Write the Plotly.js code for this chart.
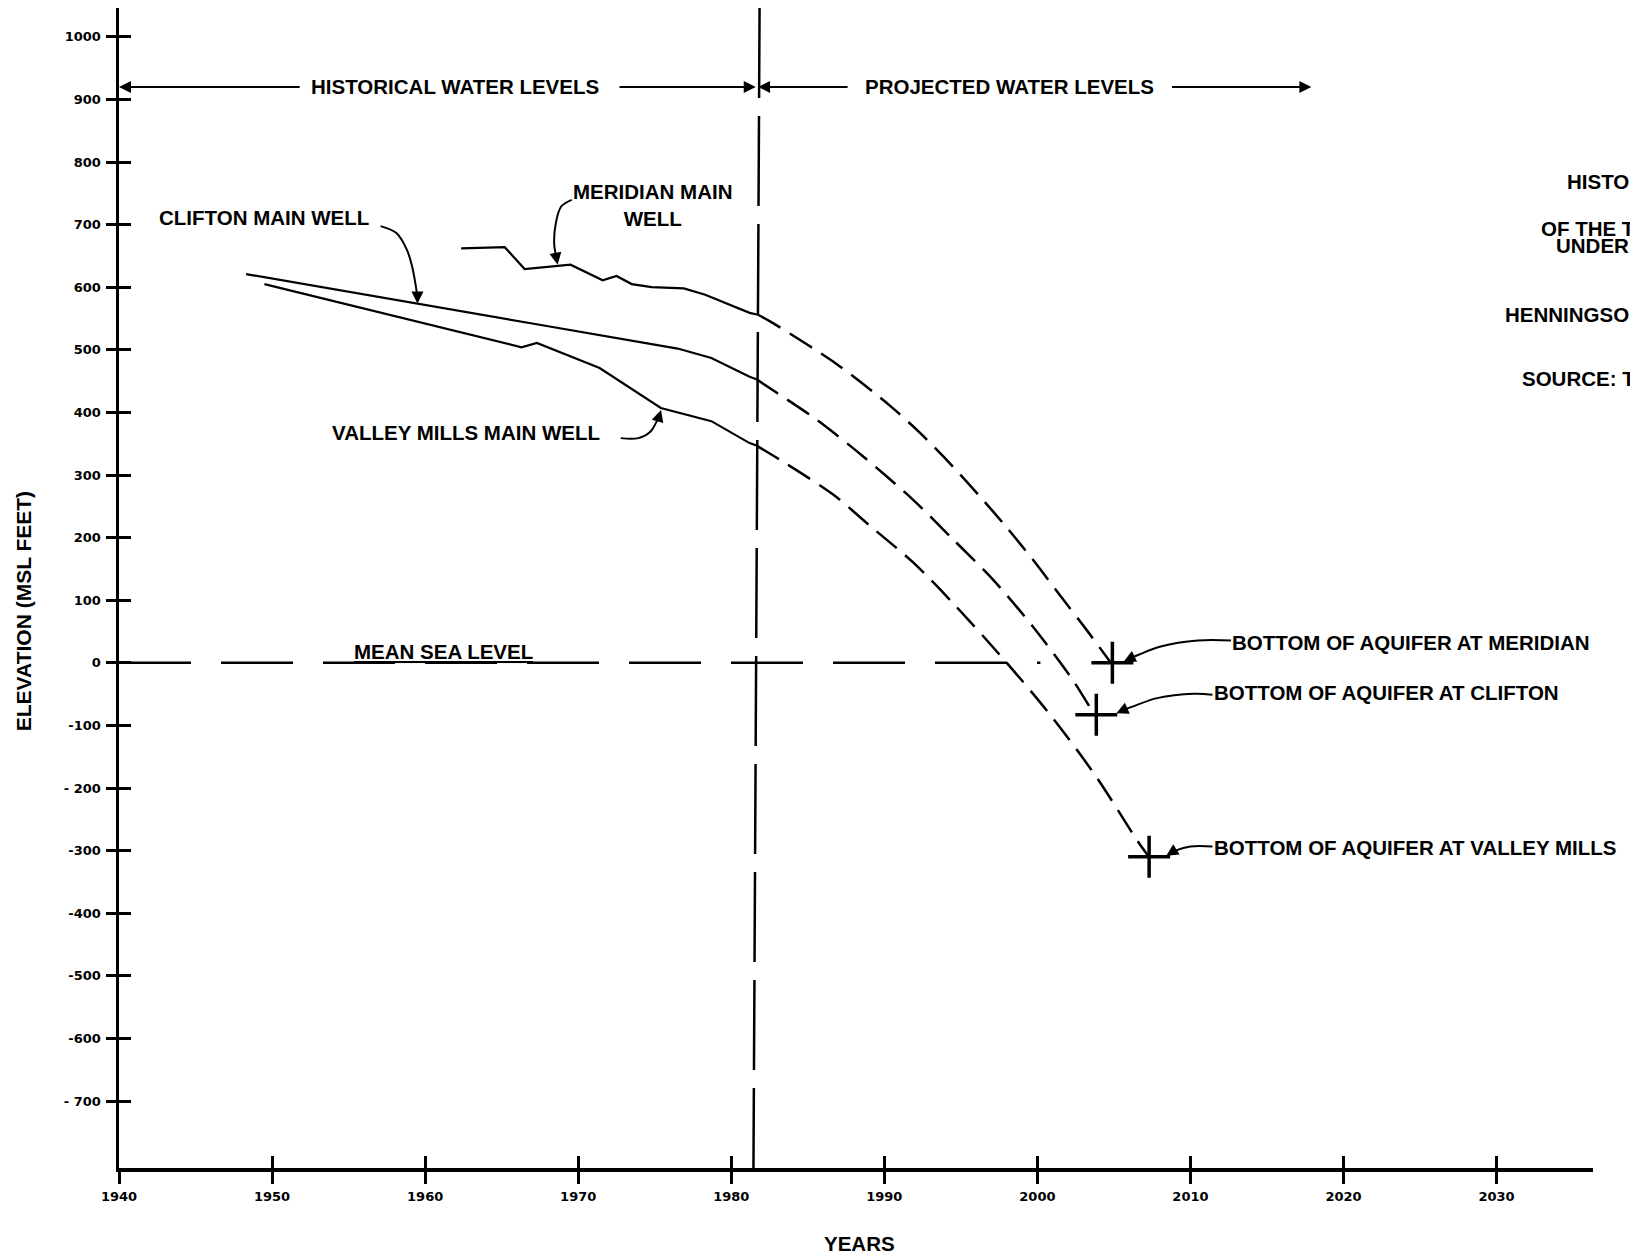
<!DOCTYPE html>
<html><head><meta charset="utf-8">
<script src="https://cdn.plot.ly/plotly-3.0.1.min.js"></script>
<style>html,body{margin:0;padding:0;background:#fff}</style>
</head><body><div id="chart" style="width:1630px;height:1258px"></div>
<script>
// ---------- DATA ----------
const xTickVals = [1940, 1950, 1960, 1970, 1980, 1990, 2000, 2010, 2020, 2030];
const xTickText = ['1940', '1950', '1960', '1970', '1980', '1990', '2000', '2010', '2020', '2030'];
const yTickVals = [1000, 900, 800, 700, 600, 500, 400, 300, 200, 100, 0, -100, -200, -300, -400, -500, -600, -700];
const yTickText = ['1000', '900', '800', '700', '600', '500', '400', '300', '200', '100', '0', '-100', '- 200', '-300', '-400', '-500', '-600', '- 700'];

// historical (solid) water levels
const cliftonYears = [1948.3, 1959.5, 1967.0, 1976.5, 1978.7, 1981.2, 1981.65];
const cliftonElev  = [621, 573, 542, 502, 487, 457, 453];
const meridianYears = [1962.35, 1965.2, 1966.5, 1968.6, 1969.5, 1971.6, 1972.5, 1973.5, 1974.8, 1976.9, 1978.3, 1981.2, 1981.75];
const meridianElev  = [662, 664, 629, 634, 636, 611, 618, 605, 600, 598, 588, 559, 556];
const valleyYears = [1949.5, 1959.5, 1966.3, 1967.3, 1971.4, 1975.4, 1978.7, 1981.2, 1981.65];
const valleyElev  = [605, 545, 504, 511, 471, 407, 386, 351, 347];

// projected (dashed) water levels
const meridianProjYears = [1981.75, 1982.7, 1986.9, 1990.4, 1992.3, 1994.5, 1996.2, 1998.0, 1999.7, 2001.5, 2003.2, 2004.8];
const meridianProjElev  = [556, 543, 477, 410, 368, 313, 267, 216, 165, 107, 53, 0];
const cliftonProjYears = [1981.65, 1983.0, 1985.6, 1988.6, 1991.9, 1994.5, 1997.1, 1999.7, 2002.3, 2003.6];
const cliftonProjElev  = [453, 431, 388, 330, 260, 197, 133, 58, -27, -78];
const valleyProjYears = [1981.65, 1983.6, 1986.7, 1989.1, 1991.9, 1994.5, 1998.0, 2001.0, 2003.9, 2006.5, 2007.2];
const valleyProjElev  = [347, 318, 268, 218, 160, 95, 0, -88, -184, -283, -307];

// bottom of aquifer points (Meridian, Clifton, Valley Mills)
const aquiferYears = [2004.9, 2003.85, 2007.3];
const aquiferElev  = [0, -83, -310];

// reference lines
const dividerYears = [1981.85, 1981.45];
const dividerElev  = [1046, -807];
const mslYears = [1940, 2000.2];
const mslElev  = [0, 0];
const arrowLevel = 920;

// ---------- LABEL LEADER GEOMETRY (annotation callouts) ----------
const leaders = {
  clifton:   {x: [1957.09, 1958.12, 1958.81, 1959.15, 1959.5, 1959.5], y: [697.6, 686.4, 659.7, 633, 585, 574]},
  meridian:  {x: [1969.58, 1968.89, 1968.54, 1968.43, 1968.55, 1968.66], y: [739.6, 728.9, 702.4, 670.5, 650, 636]},
  valley:    {x: [1972.78, 1973.93, 1974.73, 1975.07, 1975.3, 1975.41], y: [358.9, 358.9, 369.5, 382.9, 395, 404]},
  botMer:    {x: [2012.65, 2010.48, 2008.06, 2006.61, 2006.1, 2005.64], y: [35.6, 35.6, 26, 12.8, 7.5, 2.1]},
  botClif:   {x: [2011.44, 2010.23, 2007.82, 2006.36, 2005.7, 2005.16], y: [-51.1, -49.5, -56.4, -68.7, -74.5, -80.4]},
  botValley: {x: [2011.44, 2009.99, 2009.02, 2008.7, 2008.42], y: [-293.4, -293.4, -300, -304, -308.3]}
};

// ---------- CHART ----------
const XR = [1940, 2036.3];
const YR = [-807, 1046];
const txtFont = {family: 'Liberation Sans, Arial, sans-serif', size: 20.5, color: '#000', weight: 'bold'};
const tickFont = {family: 'DejaVu Sans, sans-serif', size: 13, color: '#000', weight: 'bold'};

const solid = {color: '#000', width: 2.2};
const dashed = {color: '#000', width: 2.5, dash: '26px,11px', shape: 'spline', smoothing: 0.8};

const traces = [
  {x: cliftonYears, y: cliftonElev, mode: 'lines', line: solid, hoverinfo: 'skip'},
  {x: meridianYears, y: meridianElev, mode: 'lines', line: solid, hoverinfo: 'skip'},
  {x: valleyYears, y: valleyElev, mode: 'lines', line: solid, hoverinfo: 'skip'},
  {x: meridianProjYears, y: meridianProjElev, mode: 'lines', line: dashed, hoverinfo: 'skip'},
  {x: cliftonProjYears, y: cliftonProjElev, mode: 'lines', line: dashed, hoverinfo: 'skip'},
  {x: valleyProjYears, y: valleyProjElev, mode: 'lines', line: dashed, hoverinfo: 'skip'},
  {x: dividerYears, y: dividerElev, mode: 'lines', line: {color: '#000', width: 2.5, dash: '90px,18px'}, hoverinfo: 'skip'},
  {x: mslYears, y: mslElev, mode: 'lines', line: {color: '#000', width: 2.5, dash: '72px,30px'}, hoverinfo: 'skip'},
  {x: aquiferYears, y: aquiferElev, mode: 'markers', xaxis: 'x2', yaxis: 'y2',
   marker: {symbol: 'cross-thin-open', size: 30, color: '#000', line: {color: '#000', width: 3.5}}, hoverinfo: 'skip'}
];
Object.keys(leaders).forEach(function (k) {
  const L = leaders[k];
  traces.push({x: L.x.slice(0, -1), y: L.y.slice(0, -1), mode: 'lines',
    line: {color: '#000', width: 2, shape: 'spline', smoothing: 1}, hoverinfo: 'skip'});
});

function label(text, x, y, opts) {
  return Object.assign({text: text, x: x, y: y, xref: 'x', yref: 'y', showarrow: false,
    xanchor: 'center', yanchor: 'middle', font: txtFont}, opts || {});
}
function arrow(x, y, ax, ay, w) {
  return {text: '', x: x, y: y, ax: ax, ay: ay, xref: 'x', yref: 'y', axref: 'x', ayref: 'y',
    showarrow: true, arrowhead: 2, arrowsize: 1.2, arrowwidth: w || 2, arrowcolor: '#000', standoff: 0, startstandoff: 0};
}

const annotations = [
  label('HISTORICAL WATER LEVELS', 1961.95, arrowLevel),
  label('PROJECTED WATER LEVELS', 1998.2, arrowLevel),
  arrow(1940, arrowLevel, 1951.9, arrowLevel),
  arrow(1981.6, arrowLevel, 1972.6, arrowLevel),
  arrow(1981.75, arrowLevel, 1987.7, arrowLevel),
  arrow(2017.9, arrowLevel, 2008.7, arrowLevel),

  label('CLIFTON MAIN WELL', 1949.5, 712),
  label('MERIDIAN MAIN<br>WELL', 1974.85, 732),
  label('VALLEY MILLS MAIN WELL', 1962.7, 368),

  label('<u>MEAN SEA LEVEL</u>', 1961.2, 18),

  label('BOTTOM OF AQUIFER AT MERIDIAN', 2012.6, 32, {xanchor: 'left'}),
  label('BOTTOM OF AQUIFER AT CLIFTON', 2011.4, -48, {xanchor: 'left'}),
  label('BOTTOM OF AQUIFER AT VALLEY MILLS', 2011.4, -295, {xanchor: 'left'}),

  label('HISTOR', 2034.45, 769, {xanchor: 'left'}),
  label('OF THE T', 2032.8, 694, {xanchor: 'left'}),
  label('UNDERL', 2033.75, 667, {xanchor: 'left'}),
  label('HENNINGSON', 2030.4, 556, {xanchor: 'left'}),
  label('SOURCE: T', 2031.55, 454, {xanchor: 'left'}),

  {text: 'YEARS', x: 0.5027, y: -0.0647, xref: 'paper', yref: 'paper', showarrow: false,
   xanchor: 'center', yanchor: 'middle', font: txtFont},
  {text: 'ELEVATION (MSL FEET)', x: -0.0651, y: 0.48, xref: 'paper', yref: 'paper', showarrow: false,
   xanchor: 'center', yanchor: 'middle', textangle: -90, font: Object.assign({}, txtFont, {size: 21})}
];
// arrowheads at the end of each leader
Object.keys(leaders).forEach(function (k) {
  const L = leaders[k], n = L.x.length;
  annotations.push(arrow(L.x[n - 1], L.y[n - 1], L.x[n - 2], L.y[n - 2], 2));
});

const baseAxis = {showgrid: false, zeroline: false, fixedrange: true, tickcolor: '#000', tickwidth: 3};

const layout = {
  width: 1630, height: 1258,
  margin: {l: 119, r: 37, t: 8, b: 90},
  paper_bgcolor: '#fff', plot_bgcolor: '#fff',
  showlegend: false,
  xaxis: Object.assign({}, baseAxis, {range: XR, tickmode: 'array', tickvals: xTickVals, ticktext: xTickText,
    ticks: 'outside', ticklen: 12, showline: true, linewidth: 3.5, linecolor: '#000', tickfont: tickFont,
    ticklabelstandoff: 2, anchor: 'y'}),
  yaxis: Object.assign({}, baseAxis, {range: YR, tickmode: 'array', tickvals: yTickVals, ticktext: yTickText,
    ticks: 'outside', ticklen: 10, showline: true, linewidth: 3.5, linecolor: '#000', tickfont: tickFont,
    ticklabelstandoff: 2, anchor: 'x'}),
  xaxis2: Object.assign({}, baseAxis, {range: XR, overlaying: 'x', anchor: 'y2', tickmode: 'array', tickvals: xTickVals,
    ticks: 'inside', ticklen: 12, showticklabels: false, showline: false}),
  yaxis2: Object.assign({}, baseAxis, {range: YR, overlaying: 'y', anchor: 'x2', side: 'left', tickmode: 'array', tickvals: yTickVals,
    ticks: 'inside', ticklen: 12, showticklabels: false, showline: false}),
  annotations: annotations
};

Plotly.newPlot('chart', traces, layout, {staticPlot: true, displayModeBar: false});
</script></body></html>
